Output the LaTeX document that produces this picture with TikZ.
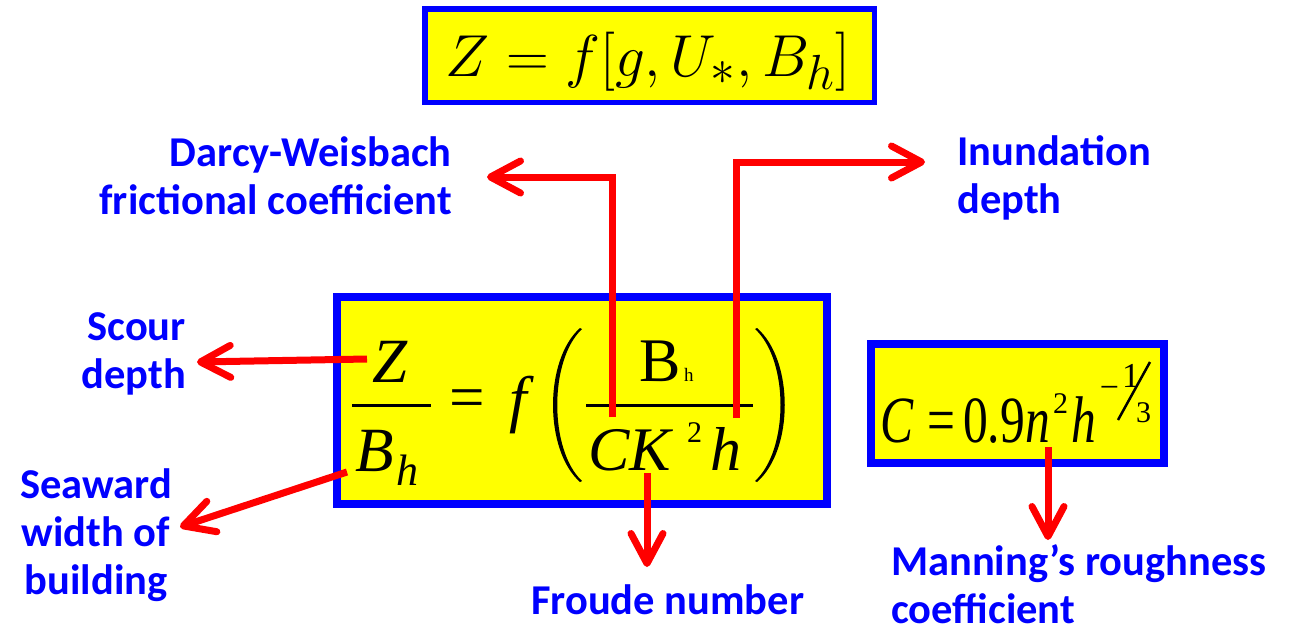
\documentclass[tikz,border=0pt]{standalone}
\usepackage{fontspec}
\setmainfont{Carlito}
\newfontfamily\tnr{Liberation Serif}
\usepackage{graphicx}
\usetikzlibrary{arrows.meta}
\definecolor{bblue}{RGB}{0,0,255}
\definecolor{yel}{RGB}{255,255,0}
\definecolor{rred}{RGB}{255,0,0}
\newcommand{\fs}[1]{\fontsize{#1}{#1}\selectfont}
\begin{document}
\begin{tikzpicture}[x=1pt,y=-1pt,
  lbl/.style={text=bblue, font=\bfseries\fontsize{42.5}{48}\selectfont, inner sep=0pt},
  eqbox/.style={draw=bblue, fill=yel, inner sep=0pt},
  mt/.style={inner sep=0pt, text=black},
  conn/.style={draw=rred, line width=7pt, line join=miter, -{Straight Barb[length=30pt,width=32pt,round]}},
  paren/.style={fill=black, draw=none}]
\fill[white] (0,0) rectangle (1291,633);
\useasboundingbox (0,0) rectangle (1291,633);

% boxes
\node[eqbox, line width=5.5pt, minimum width=449.5pt, minimum height=93.5pt] (topbox) at (649.5,55.5) {};
\node[eqbox, line width=8pt, minimum width=490pt, minimum height=207pt] (mainbox) at (582,400.5) {};
\node[eqbox, line width=8pt, minimum width=293pt, minimum height=119pt] (cbox) at (1017.5,403.5) {};

% top formula
\node[mt, anchor=base] (topeq) at (648,76) {\scalebox{2.38}{\Huge$Z = f[g, U_*, B_h]$}};

% main formula
\node[mt, anchor=base] (zz) at (390,382) {\tnr\fs{63}\itshape Z};
\draw[line width=3.5pt] (352,405.5) coordinate (fb1) -- (431,405.5) coordinate (fb2);
\node[mt, anchor=base west] (bb) at (355,471) {\tnr\fs{63}\itshape B};
\node[mt, anchor=base west] (bh) at (396,485) {\tnr\fs{44}\itshape h};
\node[mt, anchor=base] (eq) at (467,418) {\tnr\fs{63}=};
\node[mt, anchor=base] (ff) at (518,420) {\tnr\fs{63}\itshape f};
\fill[paren] (580,328) .. controls (544,360) and (544,450) .. (580,482)
  -- (582,481) .. controls (549,450) and (549,360) .. (582,329) -- cycle;
\fill[paren] (757,328) .. controls (794,360) and (794,450) .. (757,482)
  -- (755,481) .. controls (789,450) and (789,360) .. (755,329) -- cycle;
\node[mt, anchor=base west] (nb) at (639,381) {\tnr\fs{62}B};
\node[mt, anchor=base west] (nh) at (684,381) {\tnr\fs{19}h};
\draw[line width=3.5pt] (586,405.5) coordinate (ib1) -- (753,405.5) coordinate (ib2);
\node[mt, anchor=base west] (ck) at (588,470) {\tnr\fs{62}\itshape CK};
\node[mt, anchor=base west] (two) at (687,442) {\tnr\fs{30}2};
\node[mt, anchor=base west] (dh) at (710,470) {\tnr\fs{62}\itshape h};

% C formula
\node[mt, anchor=base west] (cc) at (880,442) {\scalebox{0.75}[1]{\tnr\fs{66}\itshape C}};
\node[mt, anchor=base] (ceq) at (941,442) {\scalebox{0.75}[1]{\tnr\fs{66}=}};
\node[mt, anchor=base west] (c09) at (963,442) {\scalebox{0.75}[1]{\tnr\fs{66}0.9}};
\node[mt, anchor=base west] (cn) at (1025,442) {\scalebox{0.75}[1]{\tnr\fs{66}\itshape n}};
\node[mt, anchor=base west] (ctwo) at (1053,413) {\tnr\fs{30}2};
\node[mt, anchor=base west] (ch) at (1071,442) {\scalebox{0.75}[1]{\tnr\fs{66}\itshape h}};
\node[mt, anchor=center] (cminus) at (1109.5,392) {\tnr\fs{34}−};
\node[mt, anchor=base west] (cone) at (1122,387) {\tnr\fs{35}1};
\draw[line width=2.5pt] (1118,420) coordinate (sl1) -- (1150,362) coordinate (sl2);
\node[mt, anchor=base west] (cthree) at (1136,422) {\tnr\fs{30}3};

% labels (base anchor = baseline of last line)
\node[lbl, align=right, anchor=base east] (darcy) at (452,214) {Darcy-Weisbach\\frictional coefficient};
\node[lbl, align=left, anchor=base west] (inund) at (957,213) {Inundation\\depth};
\node[lbl, align=right, anchor=base east] (scour) at (186,388) {Scour\\depth};
\node[lbl, align=center, anchor=base] (seaward) at (96,594) {Seaward\\width of\\building};
\node[lbl, anchor=base west] (froude) at (531,614) {Froude number};
\node[lbl, align=left, anchor=base west] (manning) at (891,623) {Manning’s roughness\\coefficient};

% connector coordinates
\coordinate (dw1) at (612,417);  \coordinate (dwtip) at (487,177);
\coordinate (in1) at (736,418);  \coordinate (intip) at (925,162);
\coordinate (sc1) at (367,359);  \coordinate (sctip) at (197,362);
\coordinate (sw1) at (347,472);  \coordinate (swtip) at (180,527);
\coordinate (fr1) at (647,473);  \coordinate (frtip) at (647,567);
\coordinate (mn1) at (1048,447); \coordinate (mntip) at (1048,540);

\draw[conn] (dw1) |- (dwtip);
\draw[conn] (in1) |- (intip);
\draw[conn] (sc1) -- (sctip);
\draw[conn] (sw1) -- (swtip);
\draw[conn] (fr1) -- (frtip);
\draw[conn] (mn1) -- (mntip);
\end{tikzpicture}
\end{document}
